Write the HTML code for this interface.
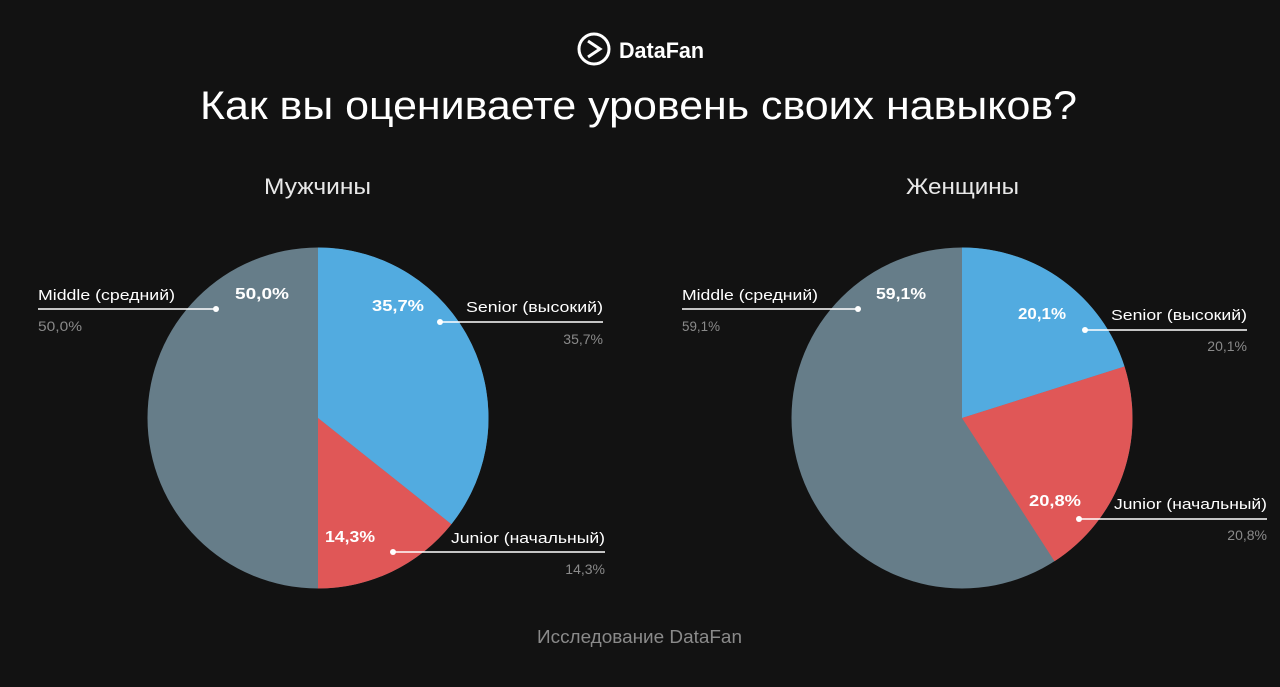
<!DOCTYPE html>
<html><head><meta charset="utf-8"><style>
body{margin:0;background:#121212;width:1280px;height:682px;overflow:hidden;font-family:"Liberation Sans","DejaVu Sans",sans-serif}
</style></head><body>
<svg width="1280" height="682" viewBox="0 0 1280 682" xmlns="http://www.w3.org/2000/svg" font-family="Liberation Sans, DejaVu Sans, sans-serif">
<rect width="1280" height="682" fill="#121212"/>
<circle cx="594" cy="49" r="15" fill="none" stroke="#fff" stroke-width="3"/>
<path d="M588 41 L600 49 L588 57" fill="none" stroke="#fff" stroke-width="3"/>
<text x="619" y="58" fill="#fff" font-size="22" font-weight="bold" textLength="85" lengthAdjust="spacingAndGlyphs">DataFan</text>
<text x="200" y="119" fill="#fff" font-size="40" textLength="877" lengthAdjust="spacingAndGlyphs">Как вы оцениваете уровень своих навыков?</text>
<text x="264" y="194" fill="#e8e8e8" font-size="22" textLength="107" lengthAdjust="spacingAndGlyphs">Мужчины</text>
<text x="906" y="194" fill="#e8e8e8" font-size="22" textLength="113" lengthAdjust="spacingAndGlyphs">Женщины</text>
<circle cx="318" cy="418" r="170.5" fill="#667d89"/>
<path d="M318 418 L318 247.5 A170.5 170.5 0 0 1 451.4 524.2 Z" fill="#52abe0"/>
<path d="M318 418 L451.4 524.2 A170.5 170.5 0 0 1 318 588.5 Z" fill="#e05757"/>
<circle cx="962" cy="418" r="170.5" fill="#667d89"/>
<path d="M962 418 L962 247.5 A170.5 170.5 0 0 1 1124.5 366.5 Z" fill="#52abe0"/>
<path d="M962 418 L1124.5 366.5 A170.5 170.5 0 0 1 1054.5 561.3 Z" fill="#e05757"/>
<g fill="#fff" font-size="16" font-weight="bold">
<text x="235" y="299" textLength="54" lengthAdjust="spacingAndGlyphs">50,0%</text>
<text x="372" y="311" textLength="52" lengthAdjust="spacingAndGlyphs">35,7%</text>
<text x="325" y="542" textLength="50" lengthAdjust="spacingAndGlyphs">14,3%</text>
<text x="876" y="299" textLength="50" lengthAdjust="spacingAndGlyphs">59,1%</text>
<text x="1018" y="319" textLength="48" lengthAdjust="spacingAndGlyphs">20,1%</text>
<text x="1029" y="506" textLength="52" lengthAdjust="spacingAndGlyphs">20,8%</text>
</g>
<g stroke="#fff" stroke-width="1.5">
<line x1="38" y1="309" x2="216" y2="309"/>
<line x1="440" y1="322" x2="603" y2="322"/>
<line x1="393" y1="552" x2="605" y2="552"/>
<line x1="682" y1="309" x2="858" y2="309"/>
<line x1="1085" y1="330" x2="1247" y2="330"/>
<line x1="1079" y1="519" x2="1267" y2="519"/>
</g>
<g fill="#fff">
<circle cx="216" cy="309" r="3"/><circle cx="440" cy="322" r="3"/><circle cx="393" cy="552" r="3"/>
<circle cx="858" cy="309" r="3"/><circle cx="1085" cy="330" r="3"/><circle cx="1079" cy="519" r="3"/>
</g>
<g fill="#fff" font-size="15">
<text x="38" y="300" textLength="137" lengthAdjust="spacingAndGlyphs">Middle (средний)</text>
<text x="466" y="312" textLength="137" lengthAdjust="spacingAndGlyphs">Senior (высокий)</text>
<text x="451" y="543" textLength="154" lengthAdjust="spacingAndGlyphs">Junior (начальный)</text>
<text x="682" y="300" textLength="136" lengthAdjust="spacingAndGlyphs">Middle (средний)</text>
<text x="1111" y="320" textLength="136" lengthAdjust="spacingAndGlyphs">Senior (высокий)</text>
<text x="1114" y="509" textLength="153" lengthAdjust="spacingAndGlyphs">Junior (начальный)</text>
</g>
<g fill="#8a8a8a" font-size="14">
<text x="38" y="331" textLength="44" lengthAdjust="spacingAndGlyphs">50,0%</text>
<text x="603" y="344" text-anchor="end">35,7%</text>
<text x="605" y="574" text-anchor="end">14,3%</text>
<text x="682" y="331" textLength="38" lengthAdjust="spacingAndGlyphs">59,1%</text>
<text x="1247" y="351" text-anchor="end">20,1%</text>
<text x="1267" y="540" text-anchor="end">20,8%</text>
</g>
<text x="537" y="643" fill="#8a8a8a" font-size="18" textLength="205" lengthAdjust="spacingAndGlyphs">Исследование DataFan</text>
</svg>
</body></html>
